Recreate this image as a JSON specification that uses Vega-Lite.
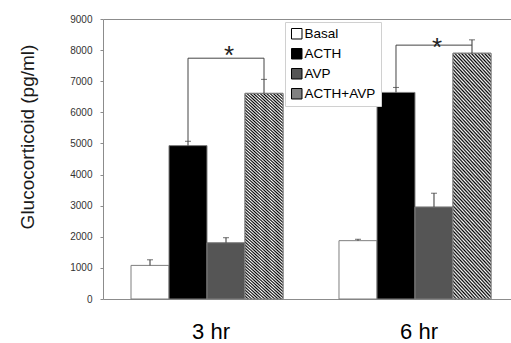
{
  "$schema": "https://vega.github.io/schema/vega-lite/v6.json",
  "width": 408,
  "height": 280,
  "autosize": {"type": "none"},
  "padding": {"left": 103, "top": 19, "right": 0, "bottom": 44},
  "config": {
    "view": {"stroke": null},
    "font": "Liberation Sans",
    "axisY": {
      "labelFontSize": 10, "labelColor": "#333", "labelPadding": 8,
      "tickSize": 3, "tickColor": "#8c8c8c", "domainColor": "#8c8c8c",
      "titleFontSize": 19, "titleFontWeight": "normal", "titleColor": "#1a1a1a"
    }
  },
  "datasets": {
    "bars": [
      {"time": "3 hr", "treatment": "Basal", "value": 1080, "upper": 1260},
      {"time": "3 hr", "treatment": "ACTH", "value": 4930, "upper": 5070},
      {"time": "3 hr", "treatment": "AVP", "value": 1810, "upper": 1970},
      {"time": "3 hr", "treatment": "ACTH+AVP", "value": 6610, "upper": 7060},
      {"time": "6 hr", "treatment": "Basal", "value": 1875, "upper": 1920},
      {"time": "6 hr", "treatment": "ACTH", "value": 6640, "upper": 6800},
      {"time": "6 hr", "treatment": "AVP", "value": 2960, "upper": 3400},
      {"time": "6 hr", "treatment": "ACTH+AVP", "value": 7900, "upper": 8330}
    ],
    "bracket": [
      {"time": "3 hr", "treatment": "ACTH", "y": 5070, "ord": 1},
      {"time": "3 hr", "treatment": "ACTH", "y": 7740, "ord": 2},
      {"time": "3 hr", "treatment": "ACTH+AVP", "y": 7740, "ord": 3},
      {"time": "3 hr", "treatment": "ACTH+AVP", "y": 7060, "ord": 4},
      {"time": "6 hr", "treatment": "ACTH", "y": 6800, "ord": 1},
      {"time": "6 hr", "treatment": "ACTH", "y": 8160, "ord": 2},
      {"time": "6 hr", "treatment": "ACTH+AVP", "y": 8160, "ord": 3}
    ],
    "stars": [
      {"time": "3 hr", "treatment": "AVP", "y": 8020, "label": "*"},
      {"time": "6 hr", "treatment": "AVP", "y": 8290, "label": "*"}
    ]
  },
  "encoding": {
    "x": {
      "field": "time", "type": "nominal",
      "scale": {"domain": ["3 hr", "6 hr"], "paddingInner": 0.2692, "paddingOuter": 0.1154, "align": 0.5833},
      "axis": {"title": null, "labelAngle": 0, "labelFontSize": 22, "labelColor": "#000", "ticks": false, "tickSize": 0, "labelPadding": 39, "labelBaseline": "alphabetic", "domainColor": "#8c8c8c", "labelOffset": 4}
    },
    "xOffset": {
      "field": "treatment", "type": "nominal",
      "scale": {"domain": ["Basal", "ACTH", "AVP", "ACTH+AVP"], "paddingInner": 0, "paddingOuter": 0}
    }
  },
  "layer": [
    {
      "data": {"name": "bars"},
      "mark": {"type": "bar", "stroke": "#7f7f7f", "strokeWidth": 1},
      "encoding": {
        "y": {
          "field": "value", "type": "quantitative", "title": "Glucocorticoid (pg/ml)",
          "scale": {"domain": [0, 9000], "nice": false},
          "axis": {
            "values": [0, 1000, 2000, 3000, 4000, 5000, 6000, 7000, 8000, 9000], "format": "d", "labelOverlap": false,
            "grid": true, "gridColor": "#8c8c8c",
            "gridOpacity": {"condition": {"test": "datum.value === 9000", "value": 1}, "value": 0},
            "titleX": -70, "titleY": 117.5, "titleAlign": "center", "titleBaseline": "alphabetic", "titleAngle": -90
          }
        },
        "fill": {
          "field": "treatment", "type": "nominal",
          "scale": {"domain": ["Basal", "ACTH", "AVP", "ACTH+AVP"], "range": ["#ffffff", "#000000", "#555555", "#808080"]},
          "legend": {
            "title": null, "orient": "none", "legendX": 182, "legendY": 3,
            "fillColor": "#ffffff", "strokeColor": "#d0d0d0", "padding": 5,
            "symbolType": "square", "symbolSize": 110, "symbolStrokeColor": "#000", "symbolStrokeWidth": 1,
            "labelFontSize": 13.5, "labelColor": "#000", "rowPadding": 5, "labelOffset": 1
          }
        }
      }
    },
    {
      "data": {"name": "bars"},
      "transform": [{"filter": "datum.treatment === 'ACTH+AVP'"}],
      "mark": {
        "type": "bar", "stroke": "#7f7f7f", "strokeWidth": 1,
        "fill": {
          "gradient": "linear", "x1": 0, "y1": 1, "x2": 0.191, "y2": -0.136,
          "stops": [
            {"offset": 0, "color": "#000"}, {"offset": 0.00625, "color": "#fff"}, {"offset": 0.0125, "color": "#000"}, {"offset": 0.01875, "color": "#fff"}, {"offset": 0.025, "color": "#000"}, {"offset": 0.03125, "color": "#fff"}, {"offset": 0.0375, "color": "#000"}, {"offset": 0.04375, "color": "#fff"},
            {"offset": 0.05, "color": "#000"}, {"offset": 0.05625, "color": "#fff"}, {"offset": 0.0625, "color": "#000"}, {"offset": 0.06875, "color": "#fff"}, {"offset": 0.075, "color": "#000"}, {"offset": 0.08125, "color": "#fff"}, {"offset": 0.0875, "color": "#000"}, {"offset": 0.09375, "color": "#fff"},
            {"offset": 0.1, "color": "#000"}, {"offset": 0.10625, "color": "#fff"}, {"offset": 0.1125, "color": "#000"}, {"offset": 0.11875, "color": "#fff"}, {"offset": 0.125, "color": "#000"}, {"offset": 0.13125, "color": "#fff"}, {"offset": 0.1375, "color": "#000"}, {"offset": 0.14375, "color": "#fff"},
            {"offset": 0.15, "color": "#000"}, {"offset": 0.15625, "color": "#fff"}, {"offset": 0.1625, "color": "#000"}, {"offset": 0.16875, "color": "#fff"}, {"offset": 0.175, "color": "#000"}, {"offset": 0.18125, "color": "#fff"}, {"offset": 0.1875, "color": "#000"}, {"offset": 0.19375, "color": "#fff"},
            {"offset": 0.2, "color": "#000"}, {"offset": 0.20625, "color": "#fff"}, {"offset": 0.2125, "color": "#000"}, {"offset": 0.21875, "color": "#fff"}, {"offset": 0.225, "color": "#000"}, {"offset": 0.23125, "color": "#fff"}, {"offset": 0.2375, "color": "#000"}, {"offset": 0.24375, "color": "#fff"},
            {"offset": 0.25, "color": "#000"}, {"offset": 0.25625, "color": "#fff"}, {"offset": 0.2625, "color": "#000"}, {"offset": 0.26875, "color": "#fff"}, {"offset": 0.275, "color": "#000"}, {"offset": 0.28125, "color": "#fff"}, {"offset": 0.2875, "color": "#000"}, {"offset": 0.29375, "color": "#fff"},
            {"offset": 0.3, "color": "#000"}, {"offset": 0.30625, "color": "#fff"}, {"offset": 0.3125, "color": "#000"}, {"offset": 0.31875, "color": "#fff"}, {"offset": 0.325, "color": "#000"}, {"offset": 0.33125, "color": "#fff"}, {"offset": 0.3375, "color": "#000"}, {"offset": 0.34375, "color": "#fff"},
            {"offset": 0.35, "color": "#000"}, {"offset": 0.35625, "color": "#fff"}, {"offset": 0.3625, "color": "#000"}, {"offset": 0.36875, "color": "#fff"}, {"offset": 0.375, "color": "#000"}, {"offset": 0.38125, "color": "#fff"}, {"offset": 0.3875, "color": "#000"}, {"offset": 0.39375, "color": "#fff"},
            {"offset": 0.4, "color": "#000"}, {"offset": 0.40625, "color": "#fff"}, {"offset": 0.4125, "color": "#000"}, {"offset": 0.41875, "color": "#fff"}, {"offset": 0.425, "color": "#000"}, {"offset": 0.43125, "color": "#fff"}, {"offset": 0.4375, "color": "#000"}, {"offset": 0.44375, "color": "#fff"},
            {"offset": 0.45, "color": "#000"}, {"offset": 0.45625, "color": "#fff"}, {"offset": 0.4625, "color": "#000"}, {"offset": 0.46875, "color": "#fff"}, {"offset": 0.475, "color": "#000"}, {"offset": 0.48125, "color": "#fff"}, {"offset": 0.4875, "color": "#000"}, {"offset": 0.49375, "color": "#fff"},
            {"offset": 0.5, "color": "#000"}, {"offset": 0.50625, "color": "#fff"}, {"offset": 0.5125, "color": "#000"}, {"offset": 0.51875, "color": "#fff"}, {"offset": 0.525, "color": "#000"}, {"offset": 0.53125, "color": "#fff"}, {"offset": 0.5375, "color": "#000"}, {"offset": 0.54375, "color": "#fff"},
            {"offset": 0.55, "color": "#000"}, {"offset": 0.55625, "color": "#fff"}, {"offset": 0.5625, "color": "#000"}, {"offset": 0.56875, "color": "#fff"}, {"offset": 0.575, "color": "#000"}, {"offset": 0.58125, "color": "#fff"}, {"offset": 0.5875, "color": "#000"}, {"offset": 0.59375, "color": "#fff"},
            {"offset": 0.6, "color": "#000"}, {"offset": 0.60625, "color": "#fff"}, {"offset": 0.6125, "color": "#000"}, {"offset": 0.61875, "color": "#fff"}, {"offset": 0.625, "color": "#000"}, {"offset": 0.63125, "color": "#fff"}, {"offset": 0.6375, "color": "#000"}, {"offset": 0.64375, "color": "#fff"},
            {"offset": 0.65, "color": "#000"}, {"offset": 0.65625, "color": "#fff"}, {"offset": 0.6625, "color": "#000"}, {"offset": 0.66875, "color": "#fff"}, {"offset": 0.675, "color": "#000"}, {"offset": 0.68125, "color": "#fff"}, {"offset": 0.6875, "color": "#000"}, {"offset": 0.69375, "color": "#fff"},
            {"offset": 0.7, "color": "#000"}, {"offset": 0.70625, "color": "#fff"}, {"offset": 0.7125, "color": "#000"}, {"offset": 0.71875, "color": "#fff"}, {"offset": 0.725, "color": "#000"}, {"offset": 0.73125, "color": "#fff"}, {"offset": 0.7375, "color": "#000"}, {"offset": 0.74375, "color": "#fff"},
            {"offset": 0.75, "color": "#000"}, {"offset": 0.75625, "color": "#fff"}, {"offset": 0.7625, "color": "#000"}, {"offset": 0.76875, "color": "#fff"}, {"offset": 0.775, "color": "#000"}, {"offset": 0.78125, "color": "#fff"}, {"offset": 0.7875, "color": "#000"}, {"offset": 0.79375, "color": "#fff"},
            {"offset": 0.8, "color": "#000"}, {"offset": 0.80625, "color": "#fff"}, {"offset": 0.8125, "color": "#000"}, {"offset": 0.81875, "color": "#fff"}, {"offset": 0.825, "color": "#000"}, {"offset": 0.83125, "color": "#fff"}, {"offset": 0.8375, "color": "#000"}, {"offset": 0.84375, "color": "#fff"},
            {"offset": 0.85, "color": "#000"}, {"offset": 0.85625, "color": "#fff"}, {"offset": 0.8625, "color": "#000"}, {"offset": 0.86875, "color": "#fff"}, {"offset": 0.875, "color": "#000"}, {"offset": 0.88125, "color": "#fff"}, {"offset": 0.8875, "color": "#000"}, {"offset": 0.89375, "color": "#fff"},
            {"offset": 0.9, "color": "#000"}, {"offset": 0.90625, "color": "#fff"}, {"offset": 0.9125, "color": "#000"}, {"offset": 0.91875, "color": "#fff"}, {"offset": 0.925, "color": "#000"}, {"offset": 0.93125, "color": "#fff"}, {"offset": 0.9375, "color": "#000"}, {"offset": 0.94375, "color": "#fff"},
            {"offset": 0.95, "color": "#000"}, {"offset": 0.95625, "color": "#fff"}, {"offset": 0.9625, "color": "#000"}, {"offset": 0.96875, "color": "#fff"}, {"offset": 0.975, "color": "#000"}, {"offset": 0.98125, "color": "#fff"}, {"offset": 0.9875, "color": "#000"}, {"offset": 0.99375, "color": "#fff"},
            {"offset": 1, "color": "#000"}
          ]
        }
      },
      "encoding": {
        "y": {"field": "value", "type": "quantitative", "title": "Glucocorticoid (pg/ml)", "scale": {"domain": [0, 9000], "nice": false},
          "axis": {"values": [0, 1000, 2000, 3000, 4000, 5000, 6000, 7000, 8000, 9000], "format": "d", "labelOverlap": false, "grid": true, "gridColor": "#8c8c8c", "gridOpacity": {"condition": {"test": "datum.value === 9000", "value": 1}, "value": 0}, "titleX": -70, "titleY": 117.5, "titleAlign": "center", "titleBaseline": "alphabetic", "titleAngle": -90}}
      }
    },
    {
      "data": {"name": "bars"},
      "mark": {"type": "rule", "color": "#333", "strokeWidth": 1},
      "encoding": {
        "y": {"field": "value", "type": "quantitative", "title": "Glucocorticoid (pg/ml)", "scale": {"domain": [0, 9000], "nice": false},
          "axis": {"values": [0, 1000, 2000, 3000, 4000, 5000, 6000, 7000, 8000, 9000], "format": "d", "labelOverlap": false, "grid": true, "gridColor": "#8c8c8c", "gridOpacity": {"condition": {"test": "datum.value === 9000", "value": 1}, "value": 0}, "titleX": -70, "titleY": 117.5, "titleAlign": "center", "titleBaseline": "alphabetic", "titleAngle": -90}},
        "y2": {"field": "upper"}
      }
    },
    {
      "data": {"name": "bars"},
      "mark": {"type": "tick", "color": "#333", "size": 6, "thickness": 1},
      "encoding": {
        "y": {"field": "upper", "type": "quantitative", "title": "Glucocorticoid (pg/ml)", "scale": {"domain": [0, 9000], "nice": false},
          "axis": {"values": [0, 1000, 2000, 3000, 4000, 5000, 6000, 7000, 8000, 9000], "format": "d", "labelOverlap": false, "grid": true, "gridColor": "#8c8c8c", "gridOpacity": {"condition": {"test": "datum.value === 9000", "value": 1}, "value": 0}, "titleX": -70, "titleY": 117.5, "titleAlign": "center", "titleBaseline": "alphabetic", "titleAngle": -90}}
      }
    },
    {
      "data": {"name": "bracket"},
      "mark": {"type": "line", "color": "#444", "strokeWidth": 1},
      "encoding": {
        "y": {"field": "y", "type": "quantitative", "title": "Glucocorticoid (pg/ml)", "scale": {"domain": [0, 9000], "nice": false},
          "axis": {"values": [0, 1000, 2000, 3000, 4000, 5000, 6000, 7000, 8000, 9000], "format": "d", "labelOverlap": false, "grid": true, "gridColor": "#8c8c8c", "gridOpacity": {"condition": {"test": "datum.value === 9000", "value": 1}, "value": 0}, "titleX": -70, "titleY": 117.5, "titleAlign": "center", "titleBaseline": "alphabetic", "titleAngle": -90}},
        "order": {"field": "ord", "type": "quantitative"},
        "detail": {"field": "time", "type": "nominal"}
      }
    },
    {
      "data": {"name": "stars"},
      "mark": {"type": "text", "fontSize": 26, "dy": 15, "dx": 3, "baseline": "alphabetic", "color": "#222"},
      "encoding": {
        "y": {"field": "y", "type": "quantitative", "title": "Glucocorticoid (pg/ml)", "scale": {"domain": [0, 9000], "nice": false},
          "axis": {"values": [0, 1000, 2000, 3000, 4000, 5000, 6000, 7000, 8000, 9000], "format": "d", "labelOverlap": false, "grid": true, "gridColor": "#8c8c8c", "gridOpacity": {"condition": {"test": "datum.value === 9000", "value": 1}, "value": 0}, "titleX": -70, "titleY": 117.5, "titleAlign": "center", "titleBaseline": "alphabetic", "titleAngle": -90}},
        "text": {"field": "label"}
      }
    }
  ]
}
